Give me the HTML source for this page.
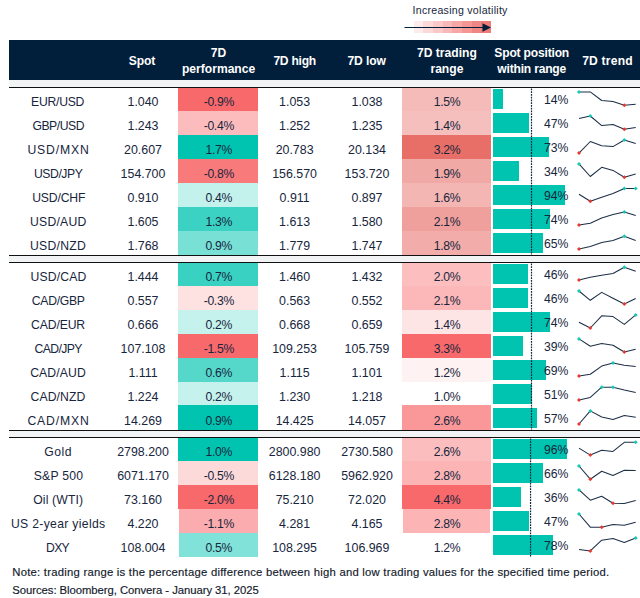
<!DOCTYPE html>
<html><head><meta charset="utf-8"><title>FX table</title>
<style>
html,body{margin:0;padding:0;background:#fff;}
body{width:640px;height:598px;position:relative;overflow:hidden;font-family:"Liberation Sans",sans-serif;color:#17263d;}
.a{position:absolute;}
.t{position:absolute;font-size:12.2px;line-height:14px;height:14px;text-align:center;white-space:nowrap;}
.h{position:absolute;color:#fff;font-weight:bold;font-size:12.1px;line-height:15.9px;text-align:center;white-space:nowrap;}
.ln{position:absolute;left:9px;width:631px;height:1px;background:#111;}
.gs{position:absolute;left:9px;width:631px;background:#f1f3f5;}
.n{position:absolute;left:12.3px;font-size:11.3px;line-height:14px;white-space:nowrap;color:#121a2c;-webkit-text-stroke:0.16px #121a2c;}
</style></head><body>

<div class="a" style="left:412.5px;top:3px;font-size:10.6px;line-height:14px;white-space:nowrap;letter-spacing:0.27px">Increasing volatility</div>
<div class="a" style="left:413.5px;top:21px;width:9.8px;height:12px;background:#feecec"></div>
<div class="a" style="left:423.2px;top:21px;width:9.8px;height:12px;background:#fcd9d9"></div>
<div class="a" style="left:432.9px;top:21px;width:9.8px;height:12px;background:#fac8c8"></div>
<div class="a" style="left:442.6px;top:21px;width:9.8px;height:12px;background:#f8b8b8"></div>
<div class="a" style="left:452.3px;top:21px;width:9.8px;height:12px;background:#f6a7a6"></div>
<div class="a" style="left:462.0px;top:21px;width:9.8px;height:12px;background:#f39694"></div>
<div class="a" style="left:471.7px;top:21px;width:9.8px;height:12px;background:#f08683"></div>
<div class="a" style="left:481.4px;top:21px;width:9.8px;height:12px;background:#ed7c76"></div>
<svg class="a" style="left:400px;top:18px" width="100" height="18" viewBox="400 18 100 18"><line x1="404.5" y1="27.5" x2="484" y2="27.5" stroke="#011e3a" stroke-width="1.2"/><polygon points="482.5,23.3 491,27.5 482.5,31.8" fill="#011e3a"/></svg>
<div class="a" style="left:9px;top:40px;width:631px;height:40px;background:#011e3a"></div>
<div class="h" style="left:82.0px;top:53.5px;width:120px;letter-spacing:-0.05px">Spot</div>
<div class="h" style="left:158.6px;top:45.7px;width:120px;letter-spacing:0.00px">7D<br>performance</div>
<div class="h" style="left:234.7px;top:53.5px;width:120px;letter-spacing:-0.25px">7D high</div>
<div class="h" style="left:306.6px;top:53.5px;width:120px;letter-spacing:-0.10px">7D low</div>
<div class="h" style="left:386.9px;top:45.7px;width:120px;letter-spacing:0.00px">7D trading<br>range</div>
<div class="h" style="left:471.7px;top:45.7px;width:120px;letter-spacing:-0.20px">Spot position<br>within range</div>
<div class="h" style="left:547.5px;top:53.5px;width:120px;letter-spacing:0.20px">7D trend</div>
<div class="gs" style="top:80px;height:7px"></div>
<div class="ln" style="top:87px"></div>
<div class="ln" style="top:255px"></div>
<div class="gs" style="top:256px;height:6px"></div>
<div class="ln" style="top:262px"></div>
<div class="ln" style="top:430px"></div>
<div class="gs" style="top:431px;height:6px"></div>
<div class="ln" style="top:437px"></div>
<div class="a" style="left:178px;top:88px;width:80px;height:23px;background:#f8696b"></div>
<div class="a" style="left:402px;top:88px;width:89px;height:23px;background:#f4bbb8"></div>
<div class="a" style="left:493px;top:89px;width:9.9px;height:20px;background:#00c4b0"></div>
<div class="t" style="left:-7.38px;top:95.0px;width:130px;letter-spacing:-0.250px">EUR/USD</div>
<div class="t" style="left:88.0px;top:95.0px;width:110px;font-size:12.4px">1.040</div>
<div class="t" style="left:163.8px;top:95.0px;width:110px;letter-spacing:-0.3px">-0.9%</div>
<div class="t" style="left:239.6px;top:95.0px;width:110px;font-size:12.4px">1.053</div>
<div class="t" style="left:312.0px;top:95.0px;width:110px;font-size:12.4px">1.038</div>
<div class="t" style="left:392.1px;top:95.0px;width:110px;letter-spacing:-0.3px">1.5%</div>
<div class="t" style="left:500px;top:93.0px;width:68.4px;text-align:right;">14%</div>
<div class="a" style="left:178px;top:111px;width:80px;height:24px;background:#fcbcbd"></div>
<div class="a" style="left:402px;top:111px;width:89px;height:24px;background:#f5bfbd"></div>
<div class="a" style="left:493px;top:113px;width:35.8px;height:20px;background:#00c4b0"></div>
<div class="t" style="left:-6.83px;top:119.0px;width:130px;letter-spacing:-0.467px">GBP/USD</div>
<div class="t" style="left:88.0px;top:119.0px;width:110px;font-size:12.4px">1.243</div>
<div class="t" style="left:163.8px;top:119.0px;width:110px;letter-spacing:-0.3px">-0.4%</div>
<div class="t" style="left:239.6px;top:119.0px;width:110px;font-size:12.4px">1.252</div>
<div class="t" style="left:312.0px;top:119.0px;width:110px;font-size:12.4px">1.235</div>
<div class="t" style="left:392.1px;top:119.0px;width:110px;letter-spacing:-0.3px">1.4%</div>
<div class="t" style="left:500px;top:117.0px;width:68.4px;text-align:right;">47%</div>
<div class="a" style="left:178px;top:135px;width:80px;height:24px;background:#00c4b0"></div>
<div class="a" style="left:402px;top:135px;width:89px;height:24px;background:#e86f67"></div>
<div class="a" style="left:493px;top:137px;width:55.9px;height:20px;background:#00c4b0"></div>
<div class="t" style="left:-6.53px;top:143.0px;width:130px;letter-spacing:0.850px">USD/MXN</div>
<div class="t" style="left:88.0px;top:143.0px;width:110px;font-size:12.4px">20.607</div>
<div class="t" style="left:163.8px;top:143.0px;width:110px;letter-spacing:-0.3px">1.7%</div>
<div class="t" style="left:239.6px;top:143.0px;width:110px;font-size:12.4px">20.783</div>
<div class="t" style="left:312.0px;top:143.0px;width:110px;font-size:12.4px">20.134</div>
<div class="t" style="left:392.1px;top:143.0px;width:110px;letter-spacing:-0.3px">3.2%</div>
<div class="t" style="left:500px;top:141.0px;width:68.4px;text-align:right;">73%</div>
<div class="a" style="left:178px;top:159px;width:80px;height:24px;background:#f97a7b"></div>
<div class="a" style="left:402px;top:159px;width:89px;height:24px;background:#f1a9a5"></div>
<div class="a" style="left:493px;top:161px;width:25.9px;height:20px;background:#00c4b0"></div>
<div class="t" style="left:-6.82px;top:167.0px;width:130px;letter-spacing:-0.433px">USD/JPY</div>
<div class="t" style="left:88.0px;top:167.0px;width:110px;font-size:12.4px">154.700</div>
<div class="t" style="left:163.8px;top:167.0px;width:110px;letter-spacing:-0.3px">-0.8%</div>
<div class="t" style="left:239.6px;top:167.0px;width:110px;font-size:12.4px">156.570</div>
<div class="t" style="left:312.0px;top:167.0px;width:110px;font-size:12.4px">153.720</div>
<div class="t" style="left:392.1px;top:167.0px;width:110px;letter-spacing:-0.3px">1.9%</div>
<div class="t" style="left:500px;top:165.0px;width:68.4px;text-align:right;">34%</div>
<div class="a" style="left:178px;top:183px;width:80px;height:24px;background:#c3f1ec"></div>
<div class="a" style="left:402px;top:183px;width:89px;height:24px;background:#f4b6b3"></div>
<div class="a" style="left:493px;top:185px;width:72.0px;height:20px;background:#00c4b0"></div>
<div class="t" style="left:-6.31px;top:191.0px;width:130px;letter-spacing:-0.175px">USD/CHF</div>
<div class="t" style="left:88.0px;top:191.0px;width:110px;font-size:12.4px">0.910</div>
<div class="t" style="left:163.8px;top:191.0px;width:110px;letter-spacing:-0.3px">0.4%</div>
<div class="t" style="left:239.6px;top:191.0px;width:110px;font-size:12.4px">0.911</div>
<div class="t" style="left:312.0px;top:191.0px;width:110px;font-size:12.4px">0.897</div>
<div class="t" style="left:392.1px;top:191.0px;width:110px;letter-spacing:-0.3px">1.6%</div>
<div class="t" style="left:500px;top:189.0px;width:68.4px;text-align:right;">94%</div>
<div class="a" style="left:178px;top:207px;width:80px;height:24px;background:#3cd2c3"></div>
<div class="a" style="left:402px;top:207px;width:89px;height:24px;background:#f0a09c"></div>
<div class="a" style="left:493px;top:209px;width:57.0px;height:20px;background:#00c4b0"></div>
<div class="t" style="left:-6.78px;top:215.0px;width:130px;letter-spacing:0.233px">USD/AUD</div>
<div class="t" style="left:88.0px;top:215.0px;width:110px;font-size:12.4px">1.605</div>
<div class="t" style="left:163.8px;top:215.0px;width:110px;letter-spacing:-0.3px">1.3%</div>
<div class="t" style="left:239.6px;top:215.0px;width:110px;font-size:12.4px">1.613</div>
<div class="t" style="left:312.0px;top:215.0px;width:110px;font-size:12.4px">1.580</div>
<div class="t" style="left:392.1px;top:215.0px;width:110px;letter-spacing:-0.3px">2.1%</div>
<div class="t" style="left:500px;top:213.0px;width:68.4px;text-align:right;">74%</div>
<div class="a" style="left:178px;top:231px;width:80px;height:24px;background:#78e0d5"></div>
<div class="a" style="left:402px;top:231px;width:89px;height:24px;background:#f2adaa"></div>
<div class="a" style="left:493px;top:233px;width:50.0px;height:20px;background:#00c4b0"></div>
<div class="t" style="left:-6.91px;top:239.0px;width:130px;letter-spacing:0.283px">USD/NZD</div>
<div class="t" style="left:88.0px;top:239.0px;width:110px;font-size:12.4px">1.768</div>
<div class="t" style="left:163.8px;top:239.0px;width:110px;letter-spacing:-0.3px">0.9%</div>
<div class="t" style="left:239.6px;top:239.0px;width:110px;font-size:12.4px">1.779</div>
<div class="t" style="left:312.0px;top:239.0px;width:110px;font-size:12.4px">1.747</div>
<div class="t" style="left:392.1px;top:239.0px;width:110px;letter-spacing:-0.3px">1.8%</div>
<div class="t" style="left:500px;top:237.0px;width:68.4px;text-align:right;">65%</div>
<div class="a" style="left:178px;top:263px;width:80px;height:23px;background:#39d1c2"></div>
<div class="a" style="left:402px;top:263px;width:89px;height:23px;background:#fcbebf"></div>
<div class="a" style="left:493px;top:264px;width:34.9px;height:20px;background:#00c4b0"></div>
<div class="t" style="left:-6.53px;top:270.0px;width:130px;letter-spacing:0.133px">USD/CAD</div>
<div class="t" style="left:88.0px;top:270.0px;width:110px;font-size:12.4px">1.444</div>
<div class="t" style="left:163.8px;top:270.0px;width:110px;letter-spacing:-0.3px">0.7%</div>
<div class="t" style="left:239.6px;top:270.0px;width:110px;font-size:12.4px">1.460</div>
<div class="t" style="left:312.0px;top:270.0px;width:110px;font-size:12.4px">1.432</div>
<div class="t" style="left:392.1px;top:270.0px;width:110px;letter-spacing:-0.3px">2.0%</div>
<div class="t" style="left:500px;top:268.0px;width:68.4px;text-align:right;">46%</div>
<div class="a" style="left:178px;top:286px;width:80px;height:24px;background:#fee1e1"></div>
<div class="a" style="left:402px;top:286px;width:89px;height:24px;background:#fcb7b8"></div>
<div class="a" style="left:493px;top:288px;width:34.9px;height:20px;background:#00c4b0"></div>
<div class="t" style="left:-6.75px;top:294.0px;width:130px;letter-spacing:-0.300px">CAD/GBP</div>
<div class="t" style="left:88.0px;top:294.0px;width:110px;font-size:12.4px">0.557</div>
<div class="t" style="left:163.8px;top:294.0px;width:110px;letter-spacing:-0.3px">-0.3%</div>
<div class="t" style="left:239.6px;top:294.0px;width:110px;font-size:12.4px">0.563</div>
<div class="t" style="left:312.0px;top:294.0px;width:110px;font-size:12.4px">0.552</div>
<div class="t" style="left:392.1px;top:294.0px;width:110px;letter-spacing:-0.3px">2.1%</div>
<div class="t" style="left:500px;top:292.0px;width:68.4px;text-align:right;">46%</div>
<div class="a" style="left:178px;top:310px;width:80px;height:24px;background:#c6f2ed"></div>
<div class="a" style="left:402px;top:310px;width:89px;height:24px;background:#fee5e5"></div>
<div class="a" style="left:493px;top:312px;width:57.0px;height:20px;background:#00c4b0"></div>
<div class="t" style="left:-6.94px;top:318.0px;width:130px;letter-spacing:-0.125px">CAD/EUR</div>
<div class="t" style="left:88.0px;top:318.0px;width:110px;font-size:12.4px">0.666</div>
<div class="t" style="left:163.8px;top:318.0px;width:110px;letter-spacing:-0.3px">0.2%</div>
<div class="t" style="left:239.6px;top:318.0px;width:110px;font-size:12.4px">0.668</div>
<div class="t" style="left:312.0px;top:318.0px;width:110px;font-size:12.4px">0.659</div>
<div class="t" style="left:392.1px;top:318.0px;width:110px;letter-spacing:-0.3px">1.4%</div>
<div class="t" style="left:500px;top:316.0px;width:68.4px;text-align:right;">74%</div>
<div class="a" style="left:178px;top:334px;width:80px;height:24px;background:#f8696b"></div>
<div class="a" style="left:402px;top:334px;width:89px;height:24px;background:#f8696b"></div>
<div class="a" style="left:493px;top:336px;width:29.8px;height:20px;background:#00c4b0"></div>
<div class="t" style="left:-6.90px;top:342.0px;width:130px;letter-spacing:-0.600px">CAD/JPY</div>
<div class="t" style="left:88.0px;top:342.0px;width:110px;font-size:12.4px">107.108</div>
<div class="t" style="left:163.8px;top:342.0px;width:110px;letter-spacing:-0.3px">-1.5%</div>
<div class="t" style="left:239.6px;top:342.0px;width:110px;font-size:12.4px">109.253</div>
<div class="t" style="left:312.0px;top:342.0px;width:110px;font-size:12.4px">105.759</div>
<div class="t" style="left:392.1px;top:342.0px;width:110px;letter-spacing:-0.3px">3.3%</div>
<div class="t" style="left:500px;top:340.0px;width:68.4px;text-align:right;">39%</div>
<div class="a" style="left:178px;top:358px;width:80px;height:24px;background:#55d8ca"></div>
<div class="a" style="left:402px;top:358px;width:89px;height:24px;background:#fef2f2"></div>
<div class="a" style="left:493px;top:360px;width:53.0px;height:20px;background:#00c4b0"></div>
<div class="t" style="left:-6.99px;top:366.0px;width:130px;letter-spacing:0.117px">CAD/AUD</div>
<div class="t" style="left:88.0px;top:366.0px;width:110px;font-size:12.4px">1.111</div>
<div class="t" style="left:163.8px;top:366.0px;width:110px;letter-spacing:-0.3px">0.6%</div>
<div class="t" style="left:239.6px;top:366.0px;width:110px;font-size:12.4px">1.115</div>
<div class="t" style="left:312.0px;top:366.0px;width:110px;font-size:12.4px">1.101</div>
<div class="t" style="left:392.1px;top:366.0px;width:110px;letter-spacing:-0.3px">1.2%</div>
<div class="t" style="left:500px;top:364.0px;width:68.4px;text-align:right;">69%</div>
<div class="a" style="left:178px;top:382px;width:80px;height:23px;background:#c6f2ed"></div>
<div class="a" style="left:493px;top:384px;width:38.8px;height:20px;background:#00c4b0"></div>
<div class="t" style="left:-6.99px;top:390.0px;width:130px;letter-spacing:0.117px">CAD/NZD</div>
<div class="t" style="left:88.0px;top:390.0px;width:110px;font-size:12.4px">1.224</div>
<div class="t" style="left:163.8px;top:390.0px;width:110px;letter-spacing:-0.3px">0.2%</div>
<div class="t" style="left:239.6px;top:390.0px;width:110px;font-size:12.4px">1.230</div>
<div class="t" style="left:312.0px;top:390.0px;width:110px;font-size:12.4px">1.218</div>
<div class="t" style="left:392.1px;top:390.0px;width:110px;letter-spacing:-0.3px">1.0%</div>
<div class="t" style="left:500px;top:388.0px;width:68.4px;text-align:right;">51%</div>
<div class="a" style="left:178px;top:405px;width:80px;height:25px;background:#00c4b0"></div>
<div class="a" style="left:402px;top:405px;width:89px;height:25px;background:#fa9798"></div>
<div class="a" style="left:493px;top:408px;width:44.0px;height:20px;background:#00c4b0"></div>
<div class="t" style="left:-6.53px;top:414.0px;width:130px;letter-spacing:0.850px">CAD/MXN</div>
<div class="t" style="left:88.0px;top:414.0px;width:110px;font-size:12.4px">14.269</div>
<div class="t" style="left:163.8px;top:414.0px;width:110px;letter-spacing:-0.3px">0.9%</div>
<div class="t" style="left:239.6px;top:414.0px;width:110px;font-size:12.4px">14.425</div>
<div class="t" style="left:312.0px;top:414.0px;width:110px;font-size:12.4px">14.057</div>
<div class="t" style="left:392.1px;top:414.0px;width:110px;letter-spacing:-0.3px">2.6%</div>
<div class="t" style="left:500px;top:412.0px;width:68.4px;text-align:right;">57%</div>
<div class="a" style="left:178px;top:438px;width:80px;height:23px;background:#00c4b0"></div>
<div class="a" style="left:402px;top:438px;width:89px;height:23px;background:#fcbdbe"></div>
<div class="a" style="left:493px;top:439px;width:74.1px;height:20px;background:#00c4b0"></div>
<div class="t" style="left:-6.87px;top:445.0px;width:130px;letter-spacing:0.567px">Gold</div>
<div class="t" style="left:88.0px;top:445.0px;width:110px;font-size:12.4px">2798.200</div>
<div class="t" style="left:163.8px;top:445.0px;width:110px;letter-spacing:-0.3px">1.0%</div>
<div class="t" style="left:239.6px;top:445.0px;width:110px;font-size:12.4px">2800.980</div>
<div class="t" style="left:312.0px;top:445.0px;width:110px;font-size:12.4px">2730.580</div>
<div class="t" style="left:392.1px;top:445.0px;width:110px;letter-spacing:-0.3px">2.6%</div>
<div class="t" style="left:500px;top:443.0px;width:68.4px;text-align:right;">96%</div>
<div class="a" style="left:178px;top:461px;width:80px;height:24px;background:#fddada"></div>
<div class="a" style="left:402px;top:461px;width:89px;height:24px;background:#fcb4b5"></div>
<div class="a" style="left:493px;top:463px;width:49.8px;height:20px;background:#00c4b0"></div>
<div class="t" style="left:-6.47px;top:469.0px;width:130px;letter-spacing:0.267px">S&amp;P 500</div>
<div class="t" style="left:88.0px;top:469.0px;width:110px;font-size:12.4px">6071.170</div>
<div class="t" style="left:163.8px;top:469.0px;width:110px;letter-spacing:-0.3px">-0.5%</div>
<div class="t" style="left:239.6px;top:469.0px;width:110px;font-size:12.4px">6128.180</div>
<div class="t" style="left:312.0px;top:469.0px;width:110px;font-size:12.4px">5962.920</div>
<div class="t" style="left:392.1px;top:469.0px;width:110px;letter-spacing:-0.3px">2.8%</div>
<div class="t" style="left:500px;top:467.0px;width:68.4px;text-align:right;">66%</div>
<div class="a" style="left:178px;top:485px;width:80px;height:24px;background:#f8696b"></div>
<div class="a" style="left:402px;top:485px;width:89px;height:24px;background:#f8696b"></div>
<div class="a" style="left:493px;top:487px;width:27.9px;height:20px;background:#00c4b0"></div>
<div class="t" style="left:-6.82px;top:493.0px;width:130px;letter-spacing:0.150px">Oil (WTI)</div>
<div class="t" style="left:88.0px;top:493.0px;width:110px;font-size:12.4px">73.160</div>
<div class="t" style="left:163.8px;top:493.0px;width:110px;letter-spacing:-0.3px">-2.0%</div>
<div class="t" style="left:239.6px;top:493.0px;width:110px;font-size:12.4px">75.210</div>
<div class="t" style="left:312.0px;top:493.0px;width:110px;font-size:12.4px">72.020</div>
<div class="t" style="left:392.1px;top:493.0px;width:110px;letter-spacing:-0.3px">4.4%</div>
<div class="t" style="left:500px;top:491.0px;width:68.4px;text-align:right;">36%</div>
<div class="a" style="left:179px;top:509px;width:79px;height:24px;background:#fbacae"></div>
<div class="a" style="left:403px;top:509px;width:87px;height:24px;background:#fcb4b5"></div>
<div class="a" style="left:493px;top:511px;width:35.8px;height:20px;background:#00c4b0"></div>
<div class="t" style="left:-6.84px;top:517.0px;width:130px;letter-spacing:0.320px">US 2-year yields</div>
<div class="t" style="left:88.0px;top:517.0px;width:110px;font-size:12.4px">4.220</div>
<div class="t" style="left:163.8px;top:517.0px;width:110px;letter-spacing:-0.3px">-1.1%</div>
<div class="t" style="left:239.6px;top:517.0px;width:110px;font-size:12.4px">4.281</div>
<div class="t" style="left:312.0px;top:517.0px;width:110px;font-size:12.4px">4.165</div>
<div class="t" style="left:392.1px;top:517.0px;width:110px;letter-spacing:-0.3px">2.8%</div>
<div class="t" style="left:500px;top:515.0px;width:68.4px;text-align:right;">47%</div>
<div class="a" style="left:179px;top:533px;width:79px;height:24px;background:#80e2d8"></div>
<div class="a" style="left:493px;top:535px;width:59.9px;height:20px;background:#00c4b0"></div>
<div class="t" style="left:-7.45px;top:541.0px;width:130px;letter-spacing:-0.700px">DXY</div>
<div class="t" style="left:88.0px;top:541.0px;width:110px;font-size:12.4px">108.004</div>
<div class="t" style="left:163.8px;top:541.0px;width:110px;letter-spacing:-0.3px">0.5%</div>
<div class="t" style="left:239.6px;top:541.0px;width:110px;font-size:12.4px">108.295</div>
<div class="t" style="left:312.0px;top:541.0px;width:110px;font-size:12.4px">106.969</div>
<div class="t" style="left:392.1px;top:541.0px;width:110px;letter-spacing:-0.3px">1.2%</div>
<div class="t" style="left:500px;top:539.0px;width:68.4px;text-align:right;">78%</div>
<svg class="a" style="left:0;top:0" width="640" height="598" viewBox="0 0 640 598"><polyline points="579.0,91.9 590.3,91.9 601.7,100.5 613.0,101.5 624.3,105.2 635.7,104.3" fill="none" stroke="#1c2f47" stroke-width="1.05" stroke-linejoin="round"/><polygon points="577.0,91.9 579.0,89.9 581.0,91.9 579.0,93.9" fill="#13c9b6"/><polygon points="622.3,105.2 624.3,103.2 626.3,105.2 624.3,107.2" fill="#e8382f"/><polyline points="579.0,118.5 590.3,116.0 601.7,125.6 613.0,124.6 624.3,129.2 635.7,127.4" fill="none" stroke="#1c2f47" stroke-width="1.05" stroke-linejoin="round"/><polygon points="588.3,116.0 590.3,114.0 592.3,116.0 590.3,118.0" fill="#13c9b6"/><polygon points="622.3,129.2 624.3,127.2 626.3,129.2 624.3,131.2" fill="#e8382f"/><polyline points="579.0,153.1 590.3,141.5 601.7,145.7 613.0,146.6 624.3,140.0 635.7,143.5" fill="none" stroke="#1c2f47" stroke-width="1.05" stroke-linejoin="round"/><polygon points="622.3,140.0 624.3,138.0 626.3,140.0 624.3,142.0" fill="#13c9b6"/><polygon points="577.0,153.1 579.0,151.1 581.0,153.1 579.0,155.1" fill="#e8382f"/><polyline points="579.0,163.9 590.3,176.5 601.7,167.3 613.0,170.4 624.3,177.2 635.7,174.1" fill="none" stroke="#1c2f47" stroke-width="1.05" stroke-linejoin="round"/><polygon points="577.0,163.9 579.0,161.9 581.0,163.9 579.0,165.9" fill="#13c9b6"/><polygon points="622.3,177.2 624.3,175.2 626.3,177.2 624.3,179.2" fill="#e8382f"/><polyline points="579.0,194.2 590.3,201.2 601.7,197.3 613.0,193.6 624.3,188.4 635.7,188.4" fill="none" stroke="#1c2f47" stroke-width="1.05" stroke-linejoin="round"/><polygon points="622.3,188.4 624.3,186.4 626.3,188.4 624.3,190.4" fill="#13c9b6"/><polygon points="633.7,188.4 635.7,186.4 637.7,188.4 635.7,190.4" fill="#13c9b6"/><polygon points="588.3,201.2 590.3,199.2 592.3,201.2 590.3,203.2" fill="#e8382f"/><polyline points="579.0,225.1 590.3,223.2 601.7,218.0 613.0,214.6 624.3,212.0 635.7,215.5" fill="none" stroke="#1c2f47" stroke-width="1.05" stroke-linejoin="round"/><polygon points="622.3,212.0 624.3,210.0 626.3,212.0 624.3,214.0" fill="#13c9b6"/><polygon points="577.0,225.1 579.0,223.1 581.0,225.1 579.0,227.1" fill="#e8382f"/><polyline points="579.0,249.1 590.3,246.5 601.7,242.6 613.0,240.4 624.3,236.2 635.7,240.4" fill="none" stroke="#1c2f47" stroke-width="1.05" stroke-linejoin="round"/><polygon points="622.3,236.2 624.3,234.2 626.3,236.2 624.3,238.2" fill="#13c9b6"/><polygon points="577.0,249.1 579.0,247.1 581.0,249.1 579.0,251.1" fill="#e8382f"/><polyline points="579.0,280.1 590.3,277.2 601.7,275.2 613.0,273.5 624.3,267.2 635.7,271.3" fill="none" stroke="#1c2f47" stroke-width="1.05" stroke-linejoin="round"/><polygon points="622.3,267.2 624.3,265.2 626.3,267.2 624.3,269.2" fill="#13c9b6"/><polygon points="577.0,280.1 579.0,278.1 581.0,280.1 579.0,282.1" fill="#e8382f"/><polyline points="579.0,291.0 590.3,300.3 601.7,292.4 613.0,298.2 624.3,304.0 635.7,298.5" fill="none" stroke="#1c2f47" stroke-width="1.05" stroke-linejoin="round"/><polygon points="577.0,291.0 579.0,289.0 581.0,291.0 579.0,293.0" fill="#13c9b6"/><polygon points="622.3,304.0 624.3,302.0 626.3,304.0 624.3,306.0" fill="#e8382f"/><polyline points="579.0,322.3 590.3,328.0 601.7,315.8 613.0,316.6 624.3,324.4 635.7,314.9" fill="none" stroke="#1c2f47" stroke-width="1.05" stroke-linejoin="round"/><polygon points="633.7,314.9 635.7,312.9 637.7,314.9 635.7,316.9" fill="#13c9b6"/><polygon points="588.3,328.0 590.3,326.0 592.3,328.0 590.3,330.0" fill="#e8382f"/><polyline points="579.0,338.9 590.3,346.2 601.7,343.6 613.0,345.2 624.3,352.0 635.7,349.2" fill="none" stroke="#1c2f47" stroke-width="1.05" stroke-linejoin="round"/><polygon points="577.0,338.9 579.0,336.9 581.0,338.9 579.0,340.9" fill="#13c9b6"/><polygon points="622.3,352.0 624.3,350.0 626.3,352.0 624.3,354.0" fill="#e8382f"/><polyline points="579.0,376.0 590.3,374.3 601.7,366.1 613.0,363.0 624.3,365.3 635.7,366.5" fill="none" stroke="#1c2f47" stroke-width="1.05" stroke-linejoin="round"/><polygon points="611.0,363.0 613.0,361.0 615.0,363.0 613.0,365.0" fill="#13c9b6"/><polygon points="577.0,376.0 579.0,374.0 581.0,376.0 579.0,378.0" fill="#e8382f"/><polyline points="579.0,400.1 590.3,397.4 601.7,387.2 613.0,387.2 624.3,390.0 635.7,392.5" fill="none" stroke="#1c2f47" stroke-width="1.05" stroke-linejoin="round"/><polygon points="599.7,387.2 601.7,385.2 603.7,387.2 601.7,389.2" fill="#13c9b6"/><polygon points="611.0,387.2 613.0,385.2 615.0,387.2 613.0,389.2" fill="#13c9b6"/><polygon points="577.0,400.1 579.0,398.1 581.0,400.1 579.0,402.1" fill="#e8382f"/><polyline points="579.0,424.0 590.3,410.9 601.7,417.0 613.0,419.4 624.3,415.6 635.7,417.3" fill="none" stroke="#1c2f47" stroke-width="1.05" stroke-linejoin="round"/><polygon points="588.3,410.9 590.3,408.9 592.3,410.9 590.3,412.9" fill="#13c9b6"/><polygon points="577.0,424.0 579.0,422.0 581.0,424.0 579.0,426.0" fill="#e8382f"/><polyline points="579.0,448.1 590.3,455.1 601.7,450.3 613.0,451.4 624.3,442.3 635.7,442.2" fill="none" stroke="#1c2f47" stroke-width="1.05" stroke-linejoin="round"/><polygon points="633.7,442.2 635.7,440.2 637.7,442.2 635.7,444.2" fill="#13c9b6"/><polygon points="588.3,455.1 590.3,453.1 592.3,455.1 590.3,457.1" fill="#e8382f"/><polyline points="579.0,466.0 590.3,479.2 601.7,471.3 613.0,475.5 624.3,470.3 635.7,470.5" fill="none" stroke="#1c2f47" stroke-width="1.05" stroke-linejoin="round"/><polygon points="577.0,466.0 579.0,464.0 581.0,466.0 579.0,468.0" fill="#13c9b6"/><polygon points="588.3,479.2 590.3,477.2 592.3,479.2 590.3,481.2" fill="#e8382f"/><polyline points="579.0,489.9 590.3,500.2 601.7,496.3 613.0,503.3 624.3,503.4 635.7,500.6" fill="none" stroke="#1c2f47" stroke-width="1.05" stroke-linejoin="round"/><polygon points="577.0,489.9 579.0,487.9 581.0,489.9 579.0,491.9" fill="#13c9b6"/><polygon points="611.0,503.3 613.0,501.3 615.0,503.3 613.0,505.3" fill="#e8382f"/><polyline points="579.0,514.0 590.3,527.2 601.7,527.2 613.0,524.4 624.3,525.3 635.7,522.3" fill="none" stroke="#1c2f47" stroke-width="1.05" stroke-linejoin="round"/><polygon points="577.0,514.0 579.0,512.0 581.0,514.0 579.0,516.0" fill="#13c9b6"/><polygon points="599.7,527.2 601.7,525.2 603.7,527.2 601.7,529.2" fill="#e8382f"/><polyline points="579.0,549.5 590.3,550.9 601.7,540.2 613.0,538.6 624.3,542.4 635.7,538.1" fill="none" stroke="#1c2f47" stroke-width="1.05" stroke-linejoin="round"/><polygon points="633.7,538.1 635.7,536.1 637.7,538.1 635.7,540.1" fill="#13c9b6"/><polygon points="588.3,550.9 590.3,548.9 592.3,550.9 590.3,552.9" fill="#e8382f"/><line x1="531.50" y1="88.4" x2="531.50" y2="255.0" stroke="#10223c" stroke-width="1.2" stroke-dasharray="1.77 1"/><line x1="531.50" y1="263.4" x2="531.50" y2="430.0" stroke="#10223c" stroke-width="1.2" stroke-dasharray="1.77 1"/><line x1="530.55" y1="438.4" x2="530.55" y2="557.0" stroke="#10223c" stroke-width="1.2" stroke-dasharray="1.77 1"/></svg>
<div class="n" style="top:565px;letter-spacing:0.235px">Note: trading range is the percentage difference between high and low trading values for the specified time period.</div>
<div class="n" style="top:583.3px;letter-spacing:-0.05px">Sources: Bloomberg, Convera - January 31, 2025</div>
</body></html>
